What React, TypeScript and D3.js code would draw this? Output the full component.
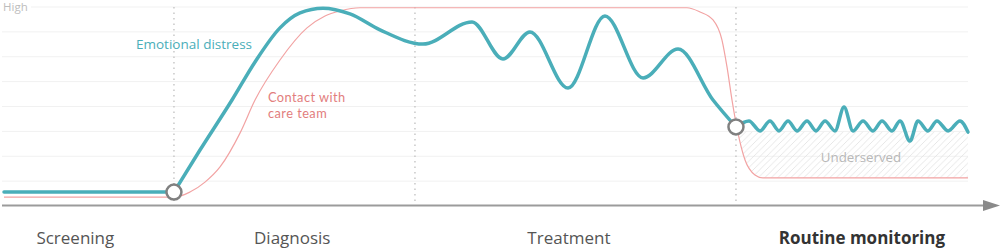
import React from "react";
import * as d3 from "d3";

// ---- data ----
const phases = ["Screening", "Diagnosis", "Treatment", "Routine monitoring"];
const phaseLabelT = [7.4, 29.9, 58.6, 89.0];
const phaseBoundaries = [17.63, 42.63, 75.93];
const gridValues = [1, 2, 3, 4, 5, 6, 7, 8];
const contactLabel = ["Contact with", "care team"];

const distressT = [0, 17.63, 20.33, 23.65, 26.04, 28.63, 30.71, 33.09, 35.89, 39.0, 43.46, 48.55, 51.76, 54.56, 58.51, 62.34, 66.29, 69.92, 73.55, 75.93,
  77.28, 78.42, 79.46, 80.39, 81.33, 82.26, 83.3, 84.23, 85.17, 86.2, 87.14, 88.07, 89.11, 90.15, 91.08, 92.12, 92.95, 93.98, 94.81, 95.85, 96.78, 97.93, 99.17, 100];
const distressV = [0.56, 0.56, 2.25, 4.26, 5.79, 7.16, 7.76, 7.95, 7.72, 7.08, 6.51, 7.4, 5.91, 7.0, 4.74, 7.64, 5.15, 6.31, 4.26, 3.18,
  3.42, 3.02, 3.42, 3.02, 3.42, 3.02, 3.42, 3.02, 3.42, 3.02, 3.98, 3.02, 3.42, 3.02, 3.42, 3.02, 3.42, 2.61, 3.42, 3.02, 3.42, 3.02, 3.42, 2.97];

const contactT = [0, 17.74, 19.29, 20.85, 22.41, 24.48, 26.04, 28.63, 31.43, 33.3, 34.85, 36.93, 70.85, 72.2, 73.55, 74.48, 75.0, 75.52, 76.14, 76.87, 77.9, 78.73, 100];
const contactV = [0.36, 0.36, 0.56, 0.96, 1.57, 2.93, 4.26, 5.87, 7.16, 7.64, 7.84, 7.97, 7.97, 7.8, 7.48, 6.67, 5.59, 4.26, 2.93, 1.85, 1.25, 1.13, 1.13];

const markerT = [17.63, 75.93];
const markerV = [0.56, 3.18];
const underservedTop = 3.0;
const underservedStart = 75.93;

const TEAL = "#4aaeb9";
const RED = "#f2a3a3";
const RED_TEXT = "#e27d7d";
const FONT = "'Open Sans', Lato, sans-serif";

export default function App() {
  const W = 1001, H = 250;
  const x = d3.scaleLinear().domain([0, 100]).range([4, 968]);
  const y = d3.scaleLinear().domain([0, 8]).range([206, 7]);

  const distress = distressT.map((t, i) => [t, distressV[i]] as [number, number]);
  const contact = contactT.map((t, i) => [t, contactV[i]] as [number, number]);
  // split at each marker so the line turns sharply there
  const segs: [number, number][][] = [];
  let cur: [number, number][] = [];
  distress.forEach(d => {
    cur.push(d);
    if (markerT.includes(d[0]) && cur.length > 1) { segs.push(cur); cur = [d]; }
  });
  if (cur.length > 1) segs.push(cur);

  const line = d3.line<[number, number]>().x(d => x(d[0])).y(d => y(d[1])).curve(d3.curveMonotoneX);
  const area = d3.area<[number, number]>()
    .x(d => x(d[0])).y0(() => y(underservedTop)).y1(d => y(d[1])).curve(d3.curveMonotoneX);
  const contactTail = contact.filter(d => d[0] >= 73);

  const axisY = y(0) - 0.5;

  return (
    <svg width={W} height={H} style={{ position: "absolute", left: 0, top: 0 }} fontFamily={FONT}>
      <defs>
        <pattern id="hatch" patternUnits="userSpaceOnUse" width="6.5" height="6.5">
          <path d="M-1,1 l2,-2 M0,6.5 l6.5,-6.5 M5.5,7.5 l2,-2" stroke="#e4e4e4" strokeWidth="0.9" />
        </pattern>
        <clipPath id="underClip">
          <rect x={x(underservedStart)} y={y(underservedTop)} width={x(100) - x(underservedStart)} height={y(0) - y(underservedTop)} />
        </clipPath>
      </defs>

      {/* gridlines */}
      {gridValues.map(v => (
        <line key={v} x1={v === 8 ? 31 : 2} x2={x(100)} y1={y(v)} y2={y(v)} stroke="#f1f1f1" strokeWidth={1} />
      ))}
      <text x={3} y={y(8) + 4} fontSize={11.5} fill="#bdbdbd">High</text>

      {/* phase boundaries */}
      {phaseBoundaries.map(t => (
        <line key={t} x1={x(t)} x2={x(t)} y1={y(8)} y2={axisY} stroke="#c8c8c8" strokeWidth={1.5} strokeDasharray="1.5,4" />
      ))}

      {/* underserved hatch */}
      <path d={area(contactTail) || ""} fill="url(#hatch)" clipPath="url(#underClip)" />
      <text x={861} y={162} fontSize={13.3} fill="#b8b8b8" textAnchor="middle">Underserved</text>

      {/* axis */}
      <line x1={2} x2={985} y1={axisY} y2={axisY} stroke="#9b9b9b" strokeWidth={2} />
      <path d={`M983,${axisY - 5.5} L1000,${axisY} L983,${axisY + 5.5} Z`} fill="#8a8a8a" />

      {/* lines */}
      <path d={line(contact) || ""} fill="none" stroke={RED} strokeWidth={1.2} />
      {segs.map((s, i) => (
        <path key={i} d={line(s) || ""} fill="none" stroke={TEAL} strokeWidth={3.5} strokeLinejoin="round" strokeLinecap="round" />
      ))}

      {/* markers */}
      {markerT.map((t, i) => (
        <circle key={t} cx={x(t)} cy={y(markerV[i])} r={7.5} fill="#fff" stroke="#808080" strokeWidth={2.5} />
      ))}

      {/* annotations */}
      <text x={136} y={49} fontSize={13.5} fill={TEAL}>Emotional distress</text>
      {contactLabel.map((s, i) => (
        <text key={s} x={268} y={102 + i * 15.5} fontSize={12.8} letterSpacing={0.45}
          fontFamily="Lato, sans-serif" fill={RED_TEXT}>{s}</text>
      ))}

      {/* phase labels */}
      {phases.map((p, i) => (
        <text key={p} x={x(phaseLabelT[i])} y={244} fontSize={17} textAnchor="middle"
          fill={i === 3 ? "#333" : "#555"} fontWeight={i === 3 ? 700 : 400}>{p}</text>
      ))}
    </svg>
  );
}
